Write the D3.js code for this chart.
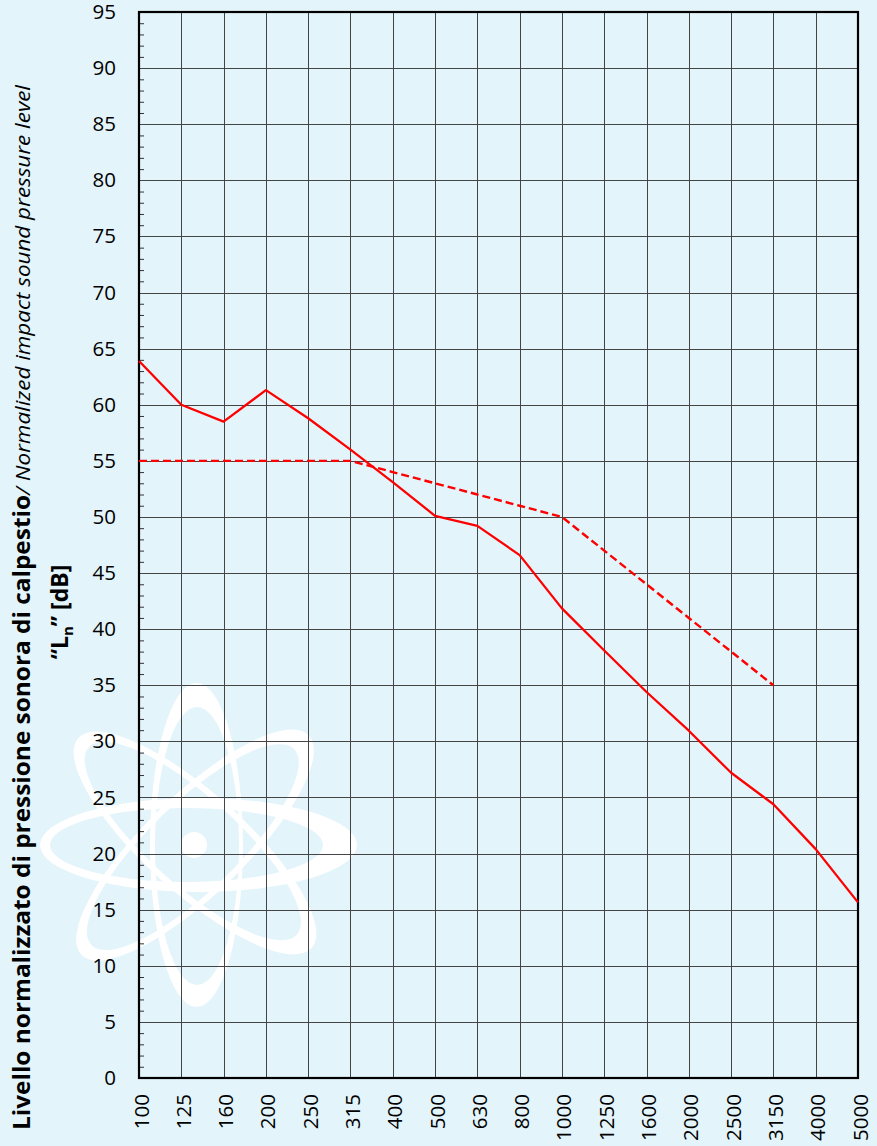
<!DOCTYPE html>
<html>
<head>
<meta charset="utf-8">
<script src="https://cdn.jsdelivr.net/npm/d3@7"></script>
<style>
html,body{margin:0;padding:0;background:#e3f4fb;}
svg{display:block;}
</style>
</head>
<body>
<svg id="chart" width="877" height="1146"></svg>
<script>
// ---- data ----
const categories = ["100","125","160","200","250","315","400","500","630","800","1000","1250","1600","2000","2500","3150","4000","5000"];
const measured = [63.9,60.0,58.5,61.3,58.8,56.0,53.1,50.1,49.2,46.6,41.85,38.1,34.4,30.95,27.2,24.4,20.4,15.65];
const referenceCurve = [55,55,55,55,55,55,54,53,52,51,50,47,44,41,38,35,null,null];
const yTicks = [0,5,10,15,20,25,30,35,40,45,50,55,60,65,70,75,80,85,90,95];
const titleBold = "Livello normalizzato di pressione sonora di calpestio";
const titleItalic = "/ Normalized impact sound pressure level";

(function(){
// ---- layout ----
const pL = 139, pR = 858, pT = 12, pB = 1078;
const svg = d3.select("#chart");
const font = "'Open Sans', 'DejaVu Sans', sans-serif";

svg.append("rect").attr("width",877).attr("height",1146).attr("fill","#e3f4fb");

const x = d3.scalePoint().domain(categories).range([pL, pR]);
const y = d3.scaleLinear().domain([0,95]).range([pB, pT]);

// ---- watermark (atom) ----
function ring(cx, cy, rxo, ryo, cxi, cyi, rxi, ryi, angle){
  const g = svg.append("g").attr("transform",`rotate(${angle},${cx},${cy})`);
  const e = (x0,y0,rx,ry)=>`M${x0-rx},${y0}a${rx},${ry} 0 1,0 ${2*rx},0a${rx},${ry} 0 1,0 ${-2*rx},0Z`;
  g.append("path").attr("d", e(cx,cy,rxo,ryo)+e(cxi,cyi,rxi,ryi))
   .attr("fill","#ffffff").attr("fill-rule","evenodd");
}
ring(198.5,845,158.5,47, 186.5,845,136.5,37, 0);
ring(196.5,845,46.5,162, 197,846,42,139, 0);
ring(195,843,157,50, 192,843,140,44, 42);
ring(195,845,158,50, 192,845,141,44, -44);
svg.append("circle").attr("cx",194).attr("cy",845).attr("r",13).attr("fill","#ffffff");

// ---- gridlines ----
const grid = svg.append("g").attr("shape-rendering","crispEdges");
grid.selectAll("line.h").data(yTicks.filter(t=>t>0 && t<95)).enter().append("line")
  .attr("x1",pL).attr("x2",pR).attr("y1",d=>Math.round(y(d))+0.5).attr("y2",d=>Math.round(y(d))+0.5)
  .attr("stroke","#444").attr("stroke-width",1);
grid.selectAll("line.v").data(categories.slice(1,-1)).enter().append("line")
  .attr("y1",pT).attr("y2",pB).attr("x1",d=>Math.round(x(d))+0.5).attr("x2",d=>Math.round(x(d))+0.5)
  .attr("stroke","#444").attr("stroke-width",1);

// ---- axes ----
const yAxis = d3.axisLeft(y).tickValues(yTicks).tickSize(0).tickPadding(23);
const gy = svg.append("g").attr("transform",`translate(${pL},0)`).call(yAxis);
gy.select(".domain").remove();
gy.selectAll("text").attr("font-family",font).attr("font-size",20.5).attr("fill","#000");

// minor ticks (every 1 unit, inside)
const minor = d3.range(1,95).filter(v=>v%5!==0);
const gm = svg.append("g").attr("transform",`translate(${pL},0)`)
  .call(d3.axisRight(y).tickValues(minor).tickSize(5).tickFormat(""));
gm.select(".domain").remove();
gm.selectAll("line").attr("stroke","#333");

const xAxis = d3.axisBottom(x).tickSize(0).tickPadding(0);
const gx = svg.append("g").attr("transform",`translate(0,${pB})`).call(xAxis);
gx.select(".domain").remove();
gx.selectAll("text")
  .attr("font-family",font).attr("font-size",20.5).attr("fill","#000")
  .attr("text-anchor","end").attr("dy",null)
  .attr("transform","translate(1,16) rotate(-90)")
  .attr("x",0).attr("y",0).attr("dominant-baseline","central");

// frame
svg.append("rect").attr("x",pL).attr("y",pT).attr("width",pR-pL).attr("height",pB-pT)
  .attr("fill","none").attr("stroke","#000").attr("stroke-width",2.2);

// ---- lines ----
const line = d3.line().defined(d=>d.v!=null).x(d=>x(d.c)).y(d=>y(d.v));
svg.append("path").datum(categories.map((c,i)=>({c,v:referenceCurve[i]})))
  .attr("d",line).attr("fill","none").attr("stroke","#ff0000").attr("stroke-width",2.4)
  .attr("stroke-dasharray","8,4");
svg.append("path").datum(categories.map((c,i)=>({c,v:measured[i]})))
  .attr("d",line).attr("fill","none").attr("stroke","#ff0000").attr("stroke-width",2.3)
  .attr("stroke-linejoin","round");

// ---- y title ----
const t1 = svg.append("text").attr("transform","translate(30,1130) rotate(-90)")
  .attr("text-anchor","start").attr("font-family",font).attr("fill","#000");
t1.append("tspan").attr("font-weight","bold").attr("font-size",23)
  .attr("textLength",635).attr("lengthAdjust","spacingAndGlyphs").text(titleBold);
t1.append("tspan").attr("font-style","italic").attr("font-size",20.5)
  .attr("textLength",410).attr("lengthAdjust","spacingAndGlyphs").text(titleItalic);

const t2 = svg.append("text").attr("transform","translate(68,612) rotate(-90)")
  .attr("text-anchor","middle").attr("font-family",font).attr("font-weight","bold").attr("font-size",23).attr("fill","#000");
t2.append("tspan").text("\u201CL");
t2.append("tspan").attr("font-size",15).attr("dy",5).text("n");
t2.append("tspan").attr("dy",-5).text("\u201D [dB]");
})();
</script>
</body>
</html>
